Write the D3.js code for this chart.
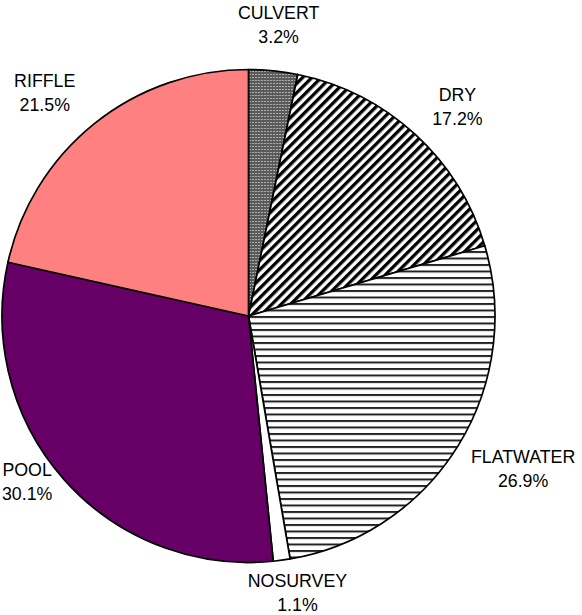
<!DOCTYPE html>
<html>
<head>
<meta charset="utf-8">
<script src="https://cdn.jsdelivr.net/npm/d3@7/dist/d3.min.js"></script>
<style>
  html, body { margin: 0; padding: 0; background: #fff; }
  svg { display: block; }
  text { font-family: "Liberation Sans", Arial, sans-serif; font-size: 17.8px; fill: #000; }
</style>
</head>
<body>
<svg id="chart" width="582" height="615"></svg>
<script>
// Stream habitat composition (percent of surveyed length)
const categories = ["CULVERT", "DRY", "FLATWATER", "NOSURVEY", "POOL", "RIFFLE"];
const shares = [3.2, 17.2, 26.9, 1.1, 30.1, 21.5];

const W = 582, H = 615;
const cx = 248.5, cy = 316, R = 246.5;

const svg = d3.select("#chart");
const defs = svg.append("defs");

// Fine gray dot screen
const dots = defs.append("pattern").attr("id", "p-dots")
  .attr("patternUnits", "userSpaceOnUse").attr("width", 3).attr("height", 3);
dots.append("rect").attr("width", 3).attr("height", 3).attr("fill", "#5a5a5a");
dots.append("rect").attr("x", 1).attr("y", 1).attr("width", 1).attr("height", 1).attr("fill", "#fff");

// Wide diagonal hatch
const diag = defs.append("pattern").attr("id", "p-diag")
  .attr("patternUnits", "userSpaceOnUse").attr("width", 6.6).attr("height", 6.6)
  .attr("patternTransform", "rotate(45)");
diag.append("rect").attr("width", 6.6).attr("height", 6.6).attr("fill", "#fff");
diag.append("rect").attr("width", 3.3).attr("height", 6.6).attr("fill", "#000");

// Horizontal rules
const horiz = defs.append("pattern").attr("id", "p-horiz")
  .attr("patternUnits", "userSpaceOnUse").attr("width", 8).attr("height", 6.5);
horiz.append("rect").attr("width", 8).attr("height", 6.5).attr("fill", "#fff");
horiz.append("rect").attr("y", 0).attr("width", 8).attr("height", 2).attr("fill", "#222");

const fills = d3.scaleOrdinal()
  .domain(categories)
  .range(["url(#p-dots)", "url(#p-diag)", "url(#p-horiz)", "#ffffff", "#660066", "#ff8080"]);

const data = categories.map((c, i) => ({ name: c, value: shares[i] }));

const pie = d3.pie().value(d => d.value).sort(null)
  .startAngle(0).endAngle(2 * Math.PI);
const arcs = pie(data);
const arc = d3.arc().innerRadius(0).outerRadius(R);

const g = svg.append("g").attr("transform", `translate(${cx},${cy})`);

g.selectAll("path.slice").data(arcs).join("path")
  .attr("class", "slice")
  .attr("d", arc)
  .attr("fill", d => fills(d.data.name))
  .attr("stroke", "#000")
  .attr("stroke-width", 1.7)
  .attr("stroke-linejoin", "round");

// Labels sit outside each slice along its mid-angle, pushed sideways by half
// their width; a few are shifted to keep them clear of the chart edges.
const labelR = R + 37.5;
const nudge = {
  CULVERT: [-2.5, -8], FLATWATER: [-11, 3], NOSURVEY: [4, -4],
  POOL: [10, -22], RIFFLE: [-7, -1]
};

const labels = g.selectAll("g.lab").data(arcs).join("g").attr("class", "lab");
labels.each(function (d) {
  const sel = d3.select(this);
  const t = sel.append("text").attr("text-anchor", "middle");
  t.append("tspan").attr("x", 0).attr("y", -6).text(d.data.name);
  t.append("tspan").attr("x", 0).attr("y", 18).text(d3.format(".1f")(d.data.value) + "%");
  const w = t.node().getBBox().width;
  const a = (d.startAngle + d.endAngle) / 2;
  const n = nudge[d.data.name] || [0, 0];
  const x = Math.sin(a) * labelR + Math.sin(a) * w / 2 + n[0];
  const y = -Math.cos(a) * labelR + n[1];
  sel.attr("transform", `translate(${x},${y})`);
});
</script>
</body>
</html>
